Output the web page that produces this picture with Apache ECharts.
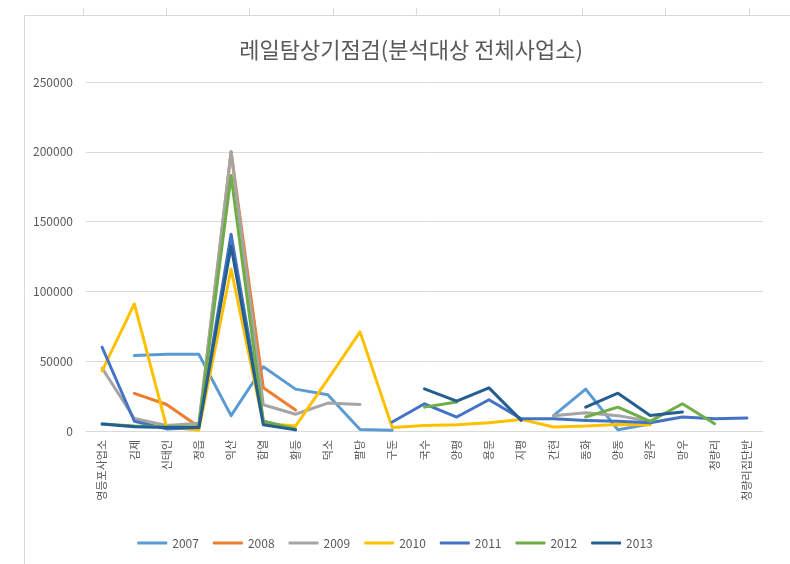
<!DOCTYPE html>
<html><head><meta charset="utf-8">
<script src="https://cdn.jsdelivr.net/npm/echarts@6/dist/echarts.min.js"></script>
<style>html,body{margin:0;padding:0;background:#fff}#c{width:790px;height:564px}</style>
</head><body><div id="c"></div>
<script>
const categories = ['영등포사업소','김제','신태인','정읍','익산','함열','황등','덕소','팔당','구둔','국수','양평','용문','지평','간현','동화','양동','원주','망우','청량리','청량리집단반'];
const yTicks = [0, 50000, 100000, 150000, 200000, 250000];
const seriesNames = ['2007','2008','2009','2010','2011','2012','2013'];
const v2007 = [null,54000,55000,55000,11000,46000,30000,26000,1000,500,null,null,null,null,11000,30000,900,5000,null,null,null];
const v2008 = [null,27000,19000,3000,200000,31000,15000,null,null,null,null,null,null,null,null,null,null,null,null,null,null];
const v2009 = [45000,9000,4000,5500,200000,18800,12000,20000,19000,null,null,null,null,null,11000,13000,11000,7000,null,null,null];
const v2010 = [43000,91000,3000,500,116000,5500,3500,37000,71000,2500,4000,4500,5900,8300,2900,3500,4700,4500,null,null,null];
const v2011 = [60000,7000,1500,2500,141000,7000,1000,null,null,6400,19500,10000,22400,8800,8800,7600,6900,5900,10000,8800,9300];
const v2012 = [5000,3500,3000,3000,183000,7000,1500,null,null,null,17100,20700,null,null,null,10000,17100,6900,19500,5200,null];
const v2013 = [5000,3000,2500,2500,132600,4500,800,null,null,null,30200,21400,30900,7600,null,17100,27100,11100,13600,null,null];
const values = [v2007,v2008,v2009,v2010,v2011,v2012,v2013];
const colors = ['#5B9BD5','#ED7D31','#A5A5A5','#FFC000','#4472C4','#70AD47','#255E91'];

const FONT = '"Noto Sans CJK KR","Noto Sans",sans-serif';
const ticksTop = [];
for (let k = 0; k < 9; k++) {
  const x = Math.round(83 + 83.2 * k) + 0.5;
  ticksTop.push({type:'line', shape:{x1:x, y1:8, x2:x, y2:15}, style:{stroke:'#D9D9D9', lineWidth:1}, silent:true});
}
const chart = echarts.init(document.getElementById('c'), null, {renderer:'canvas'});
chart.setOption({
  animation:false,
  backgroundColor:'#fff',
  color: colors,
  title:{text:'레일탐상기점검(분석대상 전체사업소)', left:406, top:34, textAlign:'center',
    textStyle:{fontFamily:FONT, fontSize:22, fontWeight:'normal', color:'#595959'}},
  graphic:[{type:'rect', shape:{x:24.5,y:15.5,width:800,height:600}, style:{fill:null, stroke:'#D9D9D9', lineWidth:1}, silent:true}].concat(ticksTop),
  grid:{left:86, right:27, top:82, bottom:133, containLabel:false},
  legend:{data:seriesNames, bottom:10, left:'center', itemWidth:30, itemHeight:3, itemGap:14,
    icon:'roundRect',
    textStyle:{fontFamily:FONT, fontSize:12, color:'#595959'}},
  xAxis:{type:'category', data:categories, boundaryGap:true,
    axisLine:{lineStyle:{color:'#D9D9D9', width:1}}, axisTick:{show:false},
    axisLabel:{rotate:90, interval:0, margin:9, fontFamily:FONT, fontSize:11, color:'#595959'}},
  yAxis:{type:'value', min:0, max:250000, interval:50000,
    axisLine:{show:false}, axisTick:{show:false},
    splitLine:{lineStyle:{color:'#D9D9D9', width:1}},
    axisLabel:{margin:13, fontFamily:FONT, fontSize:12, color:'#595959',
      formatter:(v)=> yTicks.includes(v) ? String(v) : ''}},
  series: seriesNames.map((n,i)=>({name:n, type:'line', data:values[i], symbol:'none', connectNulls:false,
    lineStyle:{width:3, color:colors[i], cap:'round', join:'round'}, itemStyle:{color:colors[i]}}))
});
</script></body></html>
